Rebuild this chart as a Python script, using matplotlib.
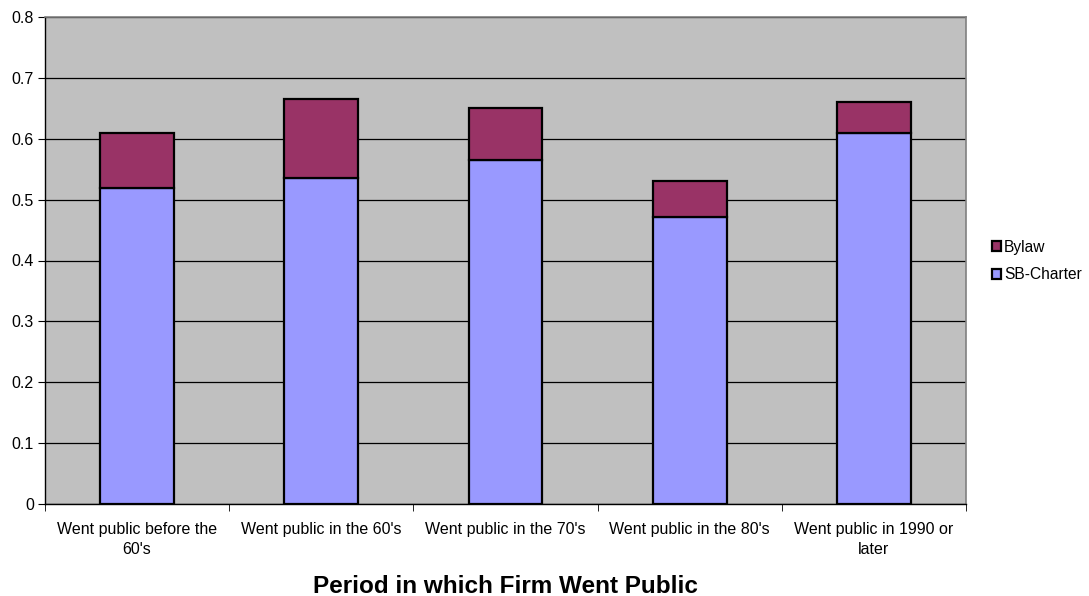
import matplotlib
matplotlib.use("Agg")
import matplotlib.pyplot as plt
import numpy as np

categories = ["Went public before the\n60's", "Went public in the 60's", "Went public in the 70's",
              "Went public in the 80's", "Went public in 1990 or\nlater"]
sb_charter = [0.519, 0.536, 0.565, 0.472, 0.609]
bylaw_total = [0.610, 0.666, 0.651, 0.530, 0.660]
bylaw = [t - s for t, s in zip(bylaw_total, sb_charter)]
yticks = [0, 0.1, 0.2, 0.3, 0.4, 0.5, 0.6, 0.7, 0.8]

plt.rcParams['font.family'] = ['Liberation Sans', 'DejaVu Sans']

fig = plt.figure(figsize=(10.89, 5.96), dpi=100)
ax = fig.add_axes([45 / 1089, 92 / 596, 921 / 1089, 487 / 596])
ax.set_facecolor('#C0C0C0')

x = np.arange(len(categories))
w = 0.4
ax.bar(x, sb_charter, w, color='#9999FF', edgecolor='black', linewidth=1.6,
       label='SB-Charter', zorder=3)
ax.bar(x, bylaw, w, bottom=sb_charter, color='#993366', edgecolor='black',
       linewidth=1.6, label='Bylaw', zorder=3)

ax.set_xlim(-0.5, len(categories) - 0.5)
ax.set_ylim(0, 0.8)
ax.set_yticks(yticks)
ax.set_yticklabels([f"{v:g}" for v in yticks], fontsize=11.5)
ax.yaxis.grid(True, color='black', linewidth=0.9, zorder=1)
ax.set_axisbelow(True)

ax.set_xticks(x)
ax.set_xticklabels(categories, fontsize=11.5, linespacing=1.45)
ax.set_xticks(np.arange(-0.5, len(categories)), minor=True)
ax.tick_params(axis='x', which='major', length=0, pad=13)
ax.tick_params(axis='x', which='minor', length=5, color='black', direction='out')
ax.tick_params(axis='y', length=5, color='black', direction='out', pad=3)

for s in ['top', 'right']:
    ax.spines[s].set_color('#808080')
    ax.spines[s].set_linewidth(1.2)
for s in ['left', 'bottom']:
    ax.spines[s].set_color('black')
    ax.spines[s].set_linewidth(1.0)

fig.text(505 / 1089, 3 / 596, 'Period in which Firm Went Public', fontsize=17.5,
         fontweight='bold', ha='center', va='baseline')

handles, labels = ax.get_legend_handles_labels()
leg = fig.legend(handles[::-1], labels[::-1], loc='center left',
                 bbox_to_anchor=(984 / 1089, 1 - 261 / 596), frameon=False,
                 fontsize=11.2, handlelength=0.6, handleheight=0.6,
                 handletextpad=0.2, labelspacing=0.8, borderpad=0)

fig.savefig('out.png', dpi=100)
